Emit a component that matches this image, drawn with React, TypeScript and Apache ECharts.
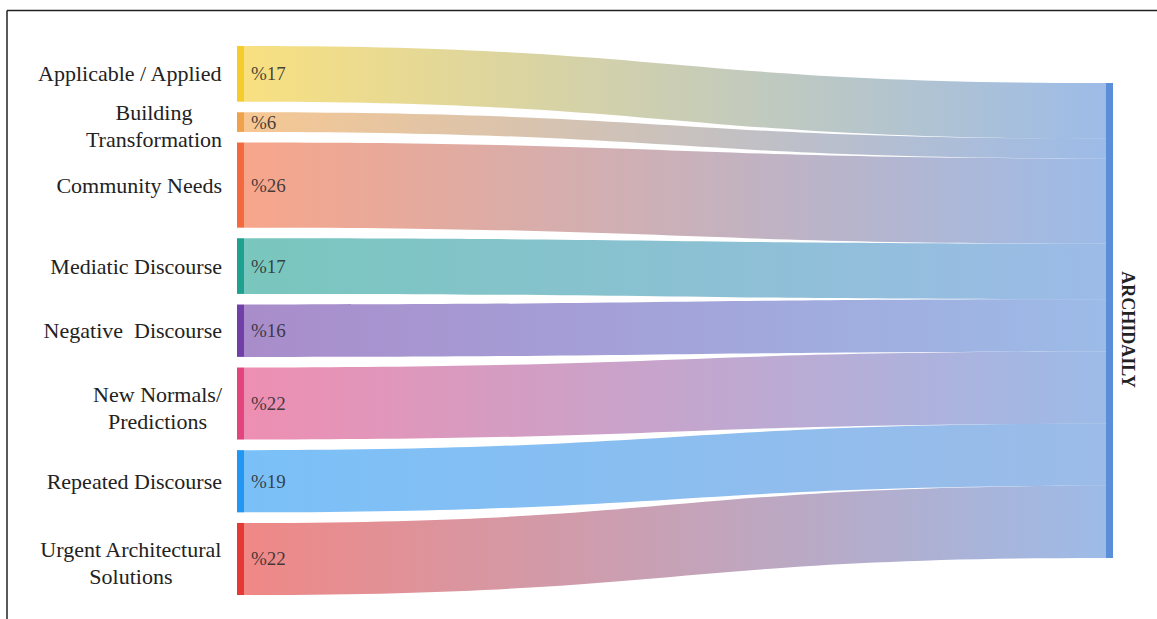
import React, { useEffect, useRef } from 'react';
import * as echarts from 'echarts';

// ---- data ----
const categories: string[] = [
  'Applicable / Applied',
  'Building\nTransformation',
  'Community Needs',
  'Mediatic Discourse',
  'Negative  Discourse',
  'New Normals/\nPredictions',
  'Repeated Discourse',
  'Urgent Architectural\nSolutions',
];
const shares: number[] = [17, 6, 26, 17, 16, 22, 19, 22];
const targetName = 'ARCHIDAILY';
const sourceColors: string[] = [
  '#f4cc2c',
  '#f0a24a',
  '#f26a3d',
  '#1fa191',
  '#7040a8',
  '#e2447e',
  '#2196f3',
  '#e53935',
];
const targetColor = '#5b8ed8';

// ---- layout constants ----
const W = 1157;
const H = 619;
const LEFT = 237;
const RIGHT = 44;
const TOP = 46;
const BOTTOM = 24;
const GAP = 10.6;
const NODE_W = 7;
const SERIF = 'Liberation Serif';
const NAME_SIZE = 22;
const LABEL_GAP = 15;

function measureWidest(text: string, font: string): number {
  const c = document.createElement('canvas');
  const ctx = c.getContext('2d');
  if (!ctx) return 0;
  ctx.font = font;
  return Math.max(...text.split('\n').map((l) => ctx.measureText(l).width));
}

export default function App() {
  const ref = useRef<HTMLDivElement>(null);

  useEffect(() => {
    if (!ref.current) return;
    const chart = echarts.init(ref.current, undefined, { renderer: 'svg' });
    const layoutH = H - TOP - BOTTOM;
    // centre the single target node against the stacked source column
    const targetLocalY = (GAP * (categories.length - 1)) / 2 / layoutH;

    const links = categories.map((name, i) => ({ source: name, target: targetName, value: shares[i] }));

    const nameFont = `${NAME_SIZE}px "${SERIF}"`;
    const mainNodes: any[] = categories.map((name, i) => {
      const multi = name.includes('\n');
      return {
        name,
        itemStyle: { color: sourceColors[i] },
        label: {
          // lines centred on each other, block ending LABEL_GAP px left of the node
          align: 'center',
          distance: LABEL_GAP + measureWidest(name, nameFont) / 2,
          lineHeight: multi ? 27 : 25,
          offset: multi ? [0, 4] : [0, 0],
        },
      };
    });
    mainNodes.push({
      name: targetName,
      localY: targetLocalY,
      itemStyle: { color: targetColor },
      label: {
        position: 'right',
        rotate: -90,
        align: 'center',
        verticalAlign: 'middle',
        distance: 15,
        // offset is applied in the rotated frame: +x runs down the page
        offset: [9, 0],
        fontFamily: SERIF,
        fontWeight: 'bold',
        fontSize: 18,
        lineHeight: 20,
        color: '#222',
      },
    });

    const pctNodes: any[] = categories.map((name, i) => ({
      name,
      itemStyle: { color: 'rgba(0,0,0,0)' },
      label: {
        show: true,
        position: 'right',
        distance: 7,
        formatter: '%' + shares[i],
        fontFamily: SERIF,
        fontSize: 19,
        color: 'rgba(40,40,40,0.85)',
      },
    }));
    pctNodes.push({
      name: targetName,
      localY: targetLocalY,
      itemStyle: { color: 'rgba(0,0,0,0)' },
      label: { show: false },
    });

    const common = {
      type: 'sankey',
      left: LEFT,
      right: RIGHT,
      top: TOP,
      bottom: BOTTOM,
      nodeWidth: NODE_W,
      nodeGap: GAP,
      nodeAlign: 'justify',
      layoutIterations: 0,
      draggable: false,
      silent: true,
      emphasis: { disabled: true },
      links,
    };

    chart.setOption({
      animation: false,
      backgroundColor: '#ffffff',
      textStyle: { fontFamily: SERIF },
      graphic: [
        { type: 'line', shape: { x1: 7, y1: 10.5, x2: W, y2: 10.5 }, style: { stroke: '#222', lineWidth: 1.5 } },
        { type: 'line', shape: { x1: 7, y1: 10.5, x2: 7, y2: H }, style: { stroke: '#222', lineWidth: 1.5 } },
      ],
      series: [
        {
          ...common,
          data: mainNodes,
          itemStyle: { borderWidth: 0 },
          lineStyle: { color: 'gradient', opacity: 0.6, curveness: 0.5 },
          label: {
            show: true,
            position: 'left',
            verticalAlign: 'middle',
            color: '#222',
            fontFamily: SERIF,
            fontSize: NAME_SIZE,
            lineHeight: 25,
          },
        },
        {
          ...common,
          data: pctNodes,
          itemStyle: { borderWidth: 0, color: 'rgba(0,0,0,0)' },
          lineStyle: { color: 'rgba(0,0,0,0)', opacity: 0 },
        },
      ],
    });
    return () => chart.dispose();
  }, []);

  return (
    <div
      ref={ref}
      style={{ position: 'absolute', left: 0, top: 0, width: W, height: H, background: '#fff' }}
    />
  );
}
